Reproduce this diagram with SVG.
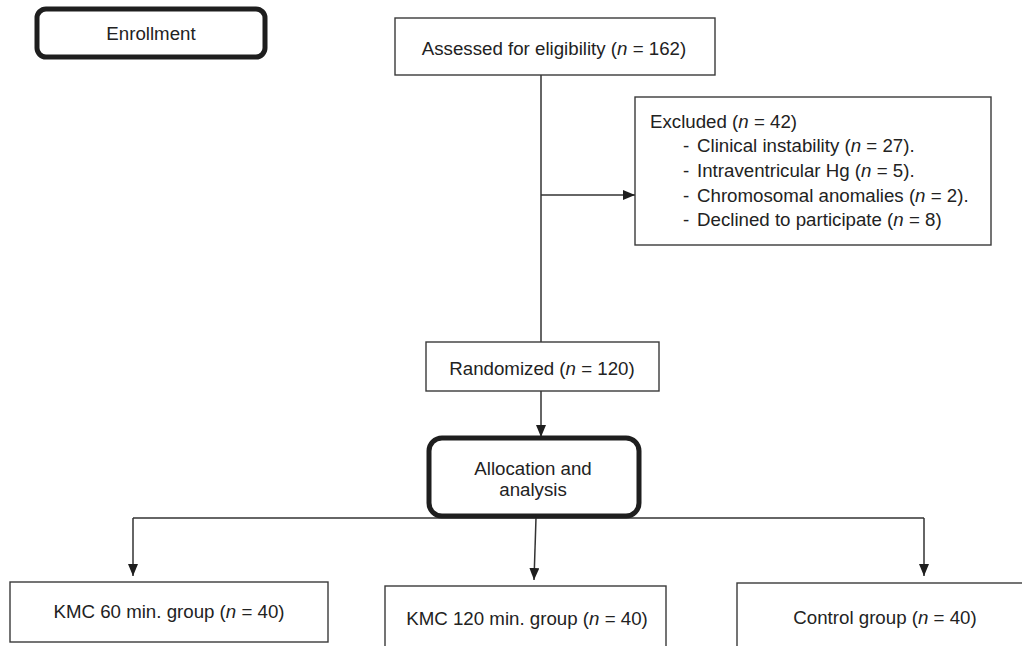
<svg xmlns="http://www.w3.org/2000/svg" width="1022" height="646" viewBox="0 0 1022 646">
<style>
.box{fill:#fff;stroke:#3a3a3a;stroke-width:1.4}
.tbox{fill:#fff;stroke:#1e1e1e;stroke-width:5}
.t{font-family:"Liberation Sans",Arial,sans-serif;font-size:18.7px;fill:#222}
.c{text-anchor:middle}
.conn{fill:none;stroke:#333;stroke-width:1.5}
</style>
<defs>
<marker id="ah" viewBox="0 0 12 10" refX="12" refY="5" markerWidth="12" markerHeight="10" markerUnits="userSpaceOnUse" orient="auto">
<path d="M0,0 L12,5 L0,10 Z" fill="#1e1e1e"/>
</marker>
</defs>
<rect width="1022" height="646" fill="#fff"/>
<g id="connectors">
<line class="conn" x1="541" y1="75" x2="541" y2="342"/>
<line class="conn" x1="541" y1="195" x2="635" y2="195" marker-end="url(#ah)"/>
<line class="conn" x1="541" y1="391" x2="541" y2="437" marker-end="url(#ah)"/>
<line class="conn" x1="133" y1="518" x2="924" y2="518"/>
<line class="conn" x1="133" y1="518" x2="133" y2="576" marker-end="url(#ah)"/>
<line class="conn" x1="536" y1="518" x2="534" y2="580" marker-end="url(#ah)"/>
<line class="conn" x1="924" y1="518" x2="924" y2="576" marker-end="url(#ah)"/>
</g>
<g id="enrollment">
<rect class="tbox" x="37" y="9" width="228" height="48" rx="9"/>
<text class="t c" x="151" y="40">Enrollment</text>
</g>
<g id="assessed">
<rect class="box" x="395" y="18" width="320" height="57"/>
<text class="t c" x="554" y="55">Assessed for eligibility (<tspan font-style="italic">n</tspan> = 162)</text>
</g>
<g id="excluded">
<rect class="box" x="635" y="97" width="356" height="148"/>
<text class="t" x="650" y="128">Excluded (<tspan font-style="italic">n</tspan> = 42)</text>
<text class="t" x="683" y="152">-<tspan x="697">Clinical instability (<tspan font-style="italic">n</tspan> = 27).</tspan></text>
<text class="t" x="683" y="177">-<tspan x="697">Intraventricular Hg (<tspan font-style="italic">n</tspan> = 5).</tspan></text>
<text class="t" x="683" y="202">-<tspan x="697">Chromosomal anomalies (<tspan font-style="italic">n</tspan> = 2).</tspan></text>
<text class="t" x="683" y="226">-<tspan x="697">Declined to participate (<tspan font-style="italic">n</tspan> = 8)</tspan></text>
</g>
<g id="randomized">
<rect class="box" x="426" y="342" width="233" height="49"/>
<text class="t c" x="542" y="375">Randomized (<tspan font-style="italic">n</tspan> = 120)</text>
</g>
<g id="allocation">
<rect class="tbox" x="429" y="438" width="210" height="78" rx="13"/>
<text class="t c" x="533" y="475">Allocation and</text>
<text class="t c" x="533" y="496">analysis</text>
</g>
<g id="kmc60">
<rect class="box" x="10" y="582" width="318" height="60"/>
<text class="t c" x="169" y="618">KMC 60 min. group (<tspan font-style="italic">n</tspan> = 40)</text>
</g>
<g id="kmc120">
<rect class="box" x="385" y="586" width="281" height="70"/>
<text class="t c" x="527" y="625">KMC 120 min. group (<tspan font-style="italic">n</tspan> = 40)</text>
</g>
<g id="control">
<rect class="box" x="737" y="583" width="300" height="70"/>
<text class="t c" x="885" y="624">Control group (<tspan font-style="italic">n</tspan> = 40)</text>
</g>
</svg>
